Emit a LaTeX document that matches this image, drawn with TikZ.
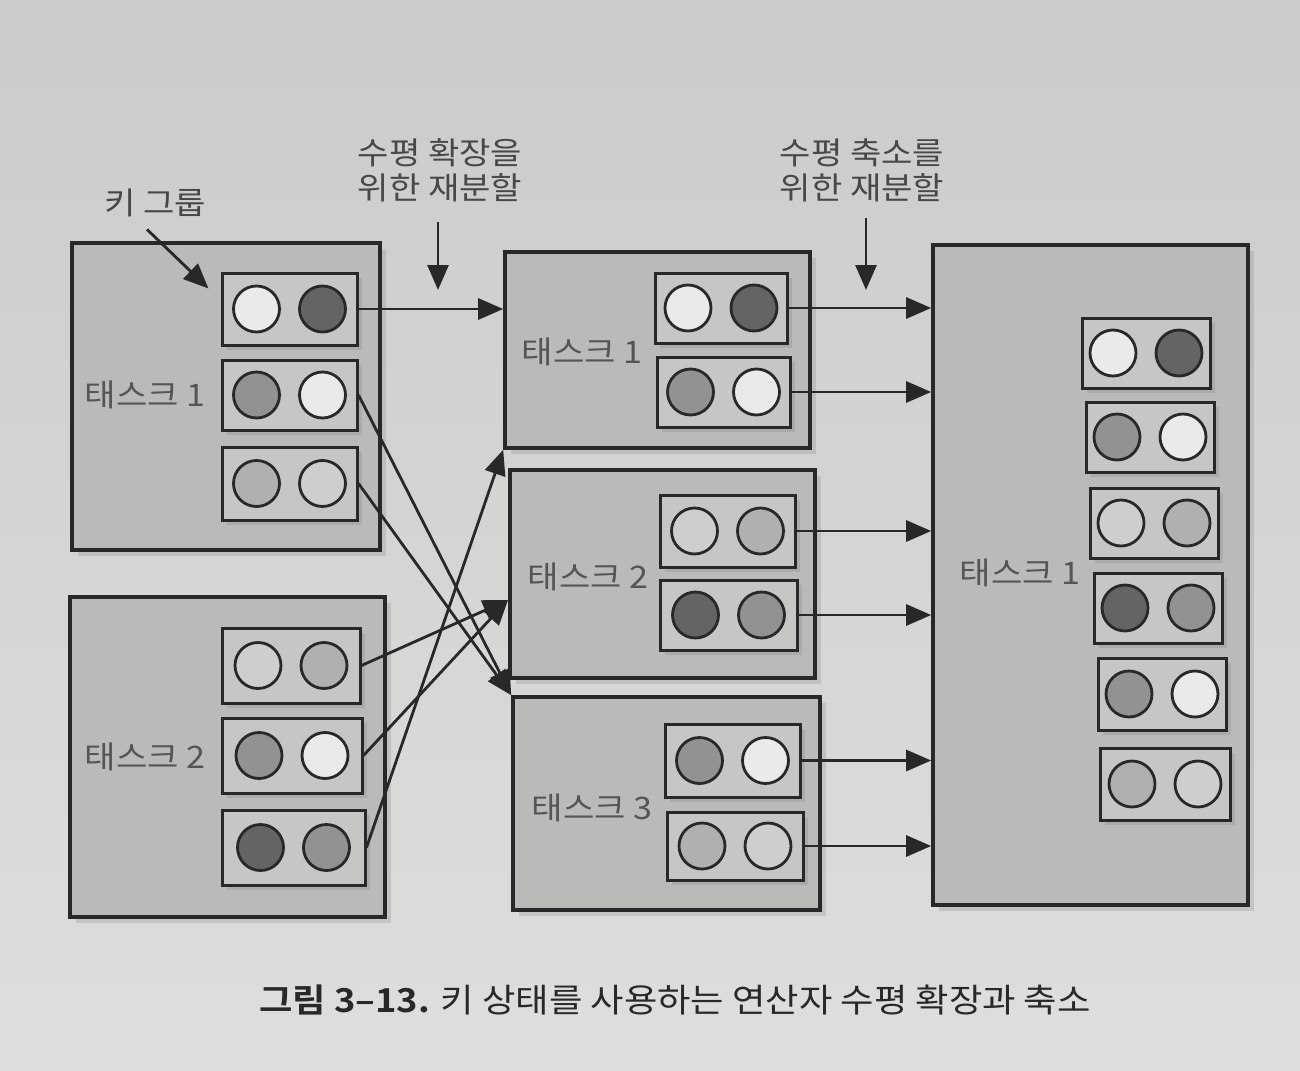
\documentclass[tikz,border=0pt]{standalone}
\usepackage{fontspec}
\setmainfont{Noto Sans CJK KR}[FakeStretch=1.1, BoldFont={Noto Sans CJK KR Bold}]
\usetikzlibrary{arrows.meta,fit,calc,shadows}
\definecolor{bgtop}{RGB}{203,203,201}
\definecolor{bgbot}{RGB}{222,222,220}
\definecolor{taskfill}{RGB}{186,186,185}
\definecolor{kgfill}{RGB}{198,198,197}
\definecolor{cw}{RGB}{234,234,232}
\definecolor{cl}{RGB}{206,206,205}
\definecolor{clm}{RGB}{176,176,175}
\definecolor{cm}{RGB}{146,146,145}
\definecolor{cd}{RGB}{100,100,99}
\definecolor{ink}{RGB}{40,40,40}
\definecolor{lblc}{RGB}{85,85,85}
\tikzset{
  task/.style={draw=ink, line width=1.8pt, fill=taskfill, inner sep=0pt,
    drop shadow={shadow xshift=3pt, shadow yshift=-3pt, opacity=0.25}},
  kg/.style={draw=ink, line width=1.5pt, fill=kgfill, inner sep=0pt,
    drop shadow={shadow xshift=2.5pt, shadow yshift=-2.5pt, opacity=0.25}},
  keyc/.style={circle, draw=ink, line width=1.4pt, minimum size=23pt, inner sep=0pt},
  lbl/.style={text=lblc, font=\fontsize{15.5}{18}\selectfont, inner sep=0pt},
  ann/.style={text=ink!85, font=\fontsize{15.5}{17.5}\selectfont, align=center, inner sep=0pt},
  arr/.style={draw=ink, line width=1.4pt, -{Triangle[length=12.5pt,width=10.5pt]}},
}
\newcommand\keygrp[7]{%
  \node[kg, fit={(#2,#3)(#4,#5)}] (#1) {};
  \node[keyc, fill=#6] (#1a) at ($(#1.center)+(-33,0)$) {};
  \node[keyc, fill=#7] (#1b) at ($(#1.center)+(33,0)$) {};
}
\begin{document}
\begin{tikzpicture}[x=0.5pt,y=-0.5pt]
\useasboundingbox (0,0) rectangle (1300,1070);
\shade[top color=bgtop, bottom color=bgbot] (0,0) rectangle (1300,1070);

% left tasks
\node[task, fit={(72,243)(380,550)}] (lt1) {};
\node[lbl] (lt1l) at (145,395) {태스크 1};
\keygrp{k11}{222}{273}{357}{345}{cw}{cd}
\keygrp{k12}{222}{360}{357}{430}{cm}{cw}
\keygrp{k13}{222}{447}{357}{520}{clm}{cl}

\node[task, fit={(70,597)(385,917)}] (lt2) {};
\node[lbl] (lt2l) at (145,757) {태스크 2};
\keygrp{k21}{222}{628}{360}{703}{cl}{clm}
\keygrp{k22}{222}{718}{362}{793}{cm}{cw}
\keygrp{k23}{222}{810}{365}{885}{cd}{cm}

% middle tasks
\node[task, fit={(505,252)(810,448)}] (mt1) {};
\node[lbl] (mt1l) at (582,352) {태스크 1};
\keygrp{m11}{655}{273}{787}{343}{cw}{cd}
\keygrp{m12}{657}{357}{790}{427}{cm}{cw}

\node[task, fit={(510,470)(815,678)}] (mt2) {};
\node[lbl] (mt2l) at (588,577) {태스크 2};
\keygrp{m21}{660}{495}{795}{567}{cl}{clm}
\keygrp{m22}{660}{580}{797}{650}{cd}{cm}

\node[task, fit={(513,697)(820,910)}] (mt3) {};
\node[lbl] (mt3l) at (592,808) {태스크 3};
\keygrp{m31}{665}{724}{800}{797}{cm}{cw}
\keygrp{m32}{667}{812}{803}{880}{clm}{cl}

% right task
\node[task, fit={(933,245)(1248,905)}] (rt) {};
\node[lbl] (rtl) at (1020,573) {태스크 1};
\keygrp{r1}{1082}{318}{1210}{388}{cw}{cd}
\keygrp{r2}{1086}{402}{1214}{472}{cm}{cw}
\keygrp{r3}{1090}{488}{1218}{558}{cl}{clm}
\keygrp{r4}{1094}{573}{1222}{643}{cd}{cm}
\keygrp{r5}{1098}{658}{1226}{730}{cm}{cw}
\keygrp{r6}{1100}{748}{1230}{820}{clm}{cl}

% scale-out connectors
\coordinate (m2in) at (508,600);
\draw[arr] (k11.east) -- (k11.east -| mt1.west);
\draw[arr] (k12.east) -- (mt3.north west);
\draw[arr] (k13.east) -- (mt3.north west);
\draw[arr] (k21.east) -- (m2in);
\draw[arr] (k22.east) -- (m2in);
\draw[arr] (k23.east) -- (mt1.south west);

% scale-in connectors
\foreach \g in {m11,m12,m21,m22,m31,m32}
  \draw[arr] (\g.east) -- (\g.east -| rt.west);

% annotations
\node[ann] (kgl) at (155,203) {키 그룹};
\draw[arr] ($(kgl.south)+(-8,12)$) -- ($(k11.north west)+(-12,17)$);

\node[ann] (so) at (440,170) {수평 확장을\\위한 재분할};
\coordinate (sot) at (438,290);
\draw[arr] ($(so.south)+(-2,20)$) -- (sot);

\node[ann] (si) at (862,170) {수평 축소를\\위한 재분할};
\coordinate (sit) at (866,290);
\draw[arr] ($(si.south)+(4,16)$) -- (sit);

% caption
\node[text=ink, font=\fontsize{16.5}{20}\selectfont, inner sep=0pt] (cap) at (675,1000)
  {\textbf{그림 3–13.} 키 상태를 사용하는 연산자 수평 확장과 축소};
\end{tikzpicture}
\end{document}
